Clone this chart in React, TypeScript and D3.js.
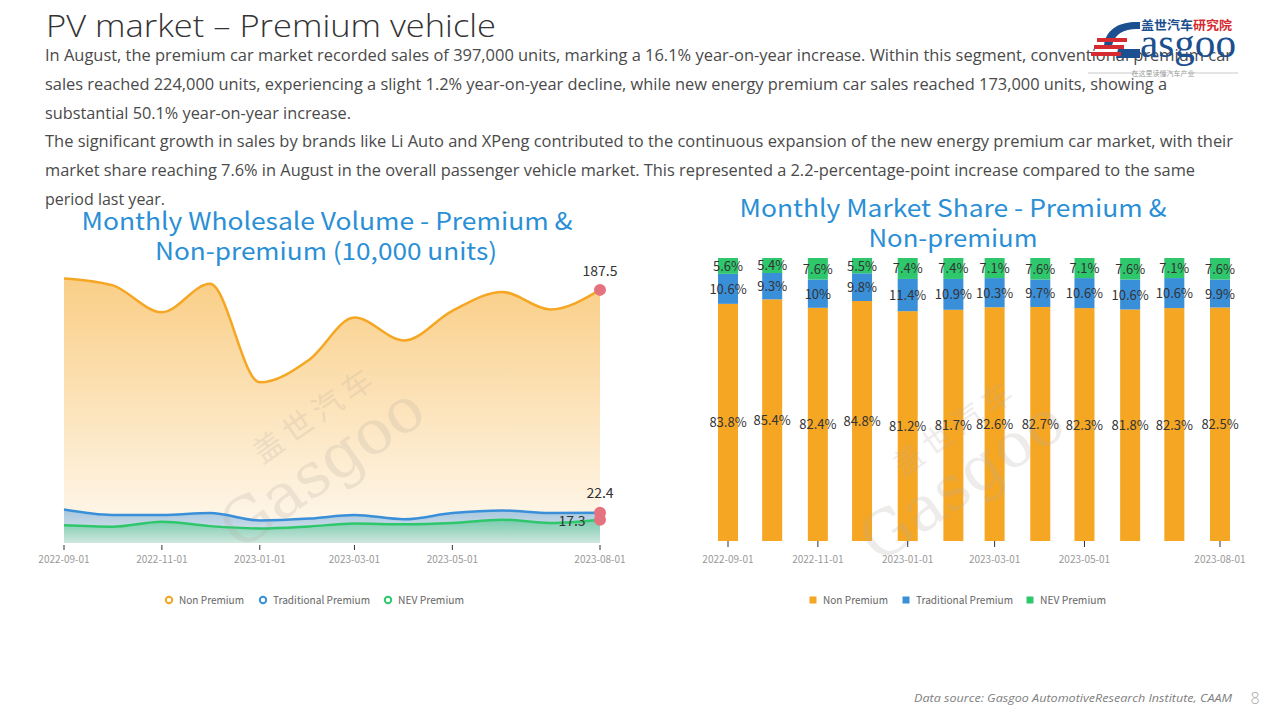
import React from "react";
import * as d3 from "d3";

const months = ["2022-09-01","2022-10-01","2022-11-01","2022-12-01","2023-01-01","2023-02-01","2023-03-01","2023-04-01","2023-05-01","2023-06-01","2023-07-01","2023-08-01"];
const tickDates = ["2022-09-01","2022-11-01","2023-01-01","2023-03-01","2023-05-01","2023-08-01"];
// wholesale volume (10,000 units)
const nonPremium = [196, 191, 171, 192, 119, 136, 167, 150, 172, 186, 173, 187.5];
const traditionalPremium = [24.8, 20.8, 20.8, 22.2, 16.7, 18.1, 20.8, 17.6, 22.2, 24.1, 22.3, 22.4];
const nevPremium = [13.1, 12.1, 15.8, 12.5, 10.8, 12.3, 14.4, 13.8, 14.8, 17.3, 14.9, 17.3];
// market share (%)
const shareNon = [83.8, 85.4, 82.4, 84.8, 81.2, 81.7, 82.6, 82.7, 82.3, 81.8, 82.3, 82.5];
const shareTrad = [10.6, 9.3, 10, 9.8, 11.4, 10.9, 10.3, 9.7, 10.6, 10.6, 10.6, 9.9];
const shareNev = [5.6, 5.4, 7.6, 5.5, 7.4, 7.4, 7.1, 7.6, 7.1, 7.6, 7.1, 7.6];
const seriesNames = ["Non Premium", "Traditional Premium", "NEV Premium"];
const colors = ["#f5a623", "#3a8fd9", "#2fc76c"];

const bodyLines = [
  { t: "In August, the premium car market recorded sales of 397,000 units, marking a 16.1% year-on-year increase. Within this segment, conventional premium car", w: 1187 },
  { t: "sales reached 224,000 units, experiencing a slight 1.2% year-on-year decline, while new energy premium car sales reached 173,000 units, showing a", w: 1122 },
  { t: "substantial 50.1% year-on-year increase.", w: 306 },
  { t: "The significant growth in sales by brands like Li Auto and XPeng contributed to the continuous expansion of the new energy premium car market, with their", w: 1188 },
  { t: "market share reaching 7.6% in August in the overall passenger vehicle market. This represented a 2.2-percentage-point increase compared to the same", w: 1150 },
  { t: "period last year.", w: 120 },
];

const parse = d3.timeParse("%Y-%m-%d");
const dates = months.map((m) => parse(m) as Date);
const ticks = tickDates.map((m) => parse(m) as Date);

const CF = "'Noto Sans CJK SC', 'Noto Sans', sans-serif";
const legendW = [65, 97, 66];

function Watermark({ x, y }: { x: number; y: number }) {
  return (
    <g transform={`translate(${x},${y}) rotate(-35)`} fill="#b5aca2" opacity={0.22} fontFamily={CF}>
      <text x={25} y={-30} fontSize={30} letterSpacing={6} textAnchor="middle">盖世汽车</text>
      <text x={0} y={28} fontSize={62} textAnchor="middle" fontFamily="'DejaVu Serif', serif">Gasgoo</text>
    </g>
  );
}

function LeftChart() {
  const x = d3.scaleTime().domain([dates[0], dates[11]]).range([64, 600]);
  const y = d3.scaleLinear().domain([0, 200]).range([543, 273]);
  const data = [nonPremium, traditionalPremium, nevPremium];
  const line = d3.line<number>().x((_, i) => x(dates[i])).y((d) => y(d)).curve(d3.curveMonotoneX);
  const area = d3.area<number>().x((_, i) => x(dates[i])).y0(y(0)).y1((d) => y(d)).curve(d3.curveMonotoneX);
  const fmt = d3.timeFormat("%Y-%m-%d");
  const legendX = [169, 263, 388];
  return (
    <g>
      <defs>
        {colors.map((c, i) => (
          <linearGradient key={i} id={`lg${i}`} x1="0" y1="0" x2="0" y2="1">
            <stop offset="0%" stopColor={c} stopOpacity={i === 0 ? 0.55 : 0.45} />
            <stop offset="100%" stopColor={c} stopOpacity={i === 0 ? 0.06 : 0.12} />
          </linearGradient>
        ))}
      </defs>
      <text x={327} y={230} fontFamily={CF} fontSize={24} fill="#2b8fd6" textAnchor="middle" textLength={491} lengthAdjust="spacingAndGlyphs">Monthly Wholesale Volume - Premium &amp;</text>
      <text x={326} y={260} fontFamily={CF} fontSize={24} fill="#2b8fd6" textAnchor="middle" textLength={342} lengthAdjust="spacingAndGlyphs">Non-premium (10,000 units)</text>
      {data.map((d, i) => (
        <path key={`a${i}`} d={area(d) || ""} fill={`url(#lg${i})`} />
      ))}
      <Watermark x={318} y={462} />
      {data.map((d, i) => (
        <path key={`l${i}`} d={line(d) || ""} fill="none" stroke={colors[i]} strokeWidth={2.5} />
      ))}
      {ticks.map((t, i) => (
        <g key={i}>
          <line x1={x(t)} x2={x(t)} y1={545} y2={550} stroke="#333" strokeWidth={1} />
          <text x={x(t)} y={563} fontSize={10} fill="#999" textAnchor="middle" fontFamily={CF}>{fmt(t)}</text>
        </g>
      ))}
      {data.map((d, i) => (
        <circle key={`m${i}`} cx={x(dates[11])} cy={y(d[11])} r={6} fill="#e4727f" />
      ))}
      <text x={x(dates[11])} y={y(nonPremium[11]) - 14} fontSize={14} fill="#333" textAnchor="middle" fontFamily={CF}>{nonPremium[11]}</text>
      <text x={x(dates[11])} y={y(traditionalPremium[11]) - 15} fontSize={14} fill="#333" textAnchor="middle" fontFamily={CF}>{traditionalPremium[11]}</text>
      <text x={x(dates[11]) - 28} y={y(nevPremium[11]) + 6} fontSize={14} fill="#333" textAnchor="middle" fontFamily={CF}>{nevPremium[11]}</text>
      {seriesNames.map((n, i) => (
        <g key={n}>
          <circle cx={legendX[i]} cy={600} r={3.2} fill="#fff" stroke={colors[i]} strokeWidth={2} />
          <text x={legendX[i] + 10} y={604} fontSize={11} fill="#666" fontFamily={CF} textLength={legendW[i]} lengthAdjust="spacingAndGlyphs">{n}</text>
        </g>
      ))}
    </g>
  );
}

function RightChart() {
  const x = d3.scaleTime().domain([dates[0], dates[11]]).range([728, 1220]);
  const y = d3.scaleLinear().domain([0, 100]).range([541, 258]);
  const fmt = d3.timeFormat("%Y-%m-%d");
  const series = [shareNon, shareTrad, shareNev];
  const bw = 20;
  const legendX = [813, 906, 1030];
  return (
    <g>
      <text x={953} y={217} fontFamily={CF} fontSize={24} fill="#2b8fd6" textAnchor="middle" textLength={427} lengthAdjust="spacingAndGlyphs">Monthly Market Share - Premium &amp;</text>
      <text x={953} y={247} fontFamily={CF} fontSize={24} fill="#2b8fd6" textAnchor="middle" textLength={169} lengthAdjust="spacingAndGlyphs">Non-premium</text>
      {dates.map((dt, i) => {
        let acc = 0;
        return (
          <g key={i}>
            {series.map((s, k) => {
              const v0 = acc;
              acc += s[i];
              const v1 = k === 2 ? 100 : acc;
              return (
                <rect key={k} x={x(dt) - bw / 2} y={y(v1)} width={bw} height={y(v0) - y(v1)} fill={colors[k]} />
              );
            })}
          </g>
        );
      })}
      <Watermark x={958} y={475} />
      {dates.map((dt, i) => {
        let acc = 0;
        return (
          <g key={`t${i}`}>
            {series.map((s, k) => {
              const v0 = acc;
              acc += s[i];
              const v1 = k === 2 ? 100 : acc;
              return (
                <text key={k} x={x(dt)} y={(y(v0) + y(v1)) / 2 + 5} fontSize={13} fill="#333" textAnchor="middle" fontFamily={CF}>{`${s[i]}%`}</text>
              );
            })}
          </g>
        );
      })}
      {ticks.map((t, i) => (
        <g key={i}>
          <line x1={x(t)} x2={x(t)} y1={541} y2={547} stroke="#333" strokeWidth={1} />
          <text x={x(t)} y={563} fontSize={10} fill="#999" textAnchor="middle" fontFamily={CF}>{fmt(t)}</text>
        </g>
      ))}
      {seriesNames.map((n, i) => (
        <g key={n}>
          <rect x={legendX[i] - 3.5} y={596.5} width={7} height={7} fill={colors[i]} />
          <text x={legendX[i] + 10} y={604} fontSize={11} fill="#666" fontFamily={CF} textLength={legendW[i]} lengthAdjust="spacingAndGlyphs">{n}</text>
        </g>
      ))}
    </g>
  );
}

function Logo() {
  return (
    <g>
      <text x={1141} y={30} fontSize={12.5} fontWeight="bold" fontFamily={CF} textLength={91} lengthAdjust="spacingAndGlyphs">
        <tspan fill="#1c4f8f">盖世汽车</tspan>
        <tspan fill="#d42a30">研究院</tspan>
      </text>
      <path d="M1104,46 C1106,26 1124,21 1140,22 L1140,29 C1126,28 1114,33 1112,46 Z" fill="#1c4f8f" />
      <path d="M1118,49 L1140,49 L1140,58 L1116,58 Z" fill="#1c4f8f" />
      <rect x={1097} y={38} width={30} height={4} fill="#d42a30" />
      <rect x={1094} y={45} width={30} height={4} fill="#d42a30" />
      <rect x={1091} y={52} width={30} height={4} fill="#d42a30" />
      <text x={1140} y={57} fontSize={42} fill="#1c4f8f" fontFamily="'Liberation Serif', serif" textLength={96} lengthAdjust="spacingAndGlyphs">asgoo</text>
      <line x1={1088} y1={73} x2={1138} y2={73} stroke="#bbb" strokeWidth={0.8} />
      <line x1={1188} y1={73} x2={1238} y2={73} stroke="#bbb" strokeWidth={0.8} />
      <text x={1163} y={75.5} fontSize={7} fill="#999" textAnchor="middle" fontFamily={CF}>在这里读懂汽车产业</text>
    </g>
  );
}

export default function App() {
  return (
    <div style={{ position: "absolute", left: 0, top: 0 }}>
      <svg width={1280} height={720} viewBox="0 0 1280 720" style={{ display: "block", background: "#fff" }}>
        <rect width={1280} height={720} fill="#fff" />
        <text x={46} y={37} fontSize={32} fill="#333" fontFamily="'Open Sans', 'Noto Sans', sans-serif" fontWeight={300} textLength={450} lengthAdjust="spacingAndGlyphs">PV market – Premium vehicle</text>
        {bodyLines.map((l, i) => (
          <text key={i} x={45} y={61 + i * 28.8} fontSize={16} fill="#4a4a4a" fontFamily="'Open Sans', 'Noto Sans', sans-serif" textLength={l.w} lengthAdjust="spacingAndGlyphs">{l.t}</text>
        ))}
        <Logo />
        <LeftChart />
        <RightChart />
        <text x={914} y={702} fontSize={11} fontStyle="italic" fill="#808080" fontFamily="'Open Sans', sans-serif" textLength={318} lengthAdjust="spacingAndGlyphs">Data source: Gasgoo AutomotiveResearch Institute, CAAM</text>
        <text x={1255} y={704} fontSize={16} fill="#aaa" textAnchor="middle" fontFamily="'Open Sans', sans-serif" fontWeight={300}>8</text>
      </svg>
    </div>
  );
}
